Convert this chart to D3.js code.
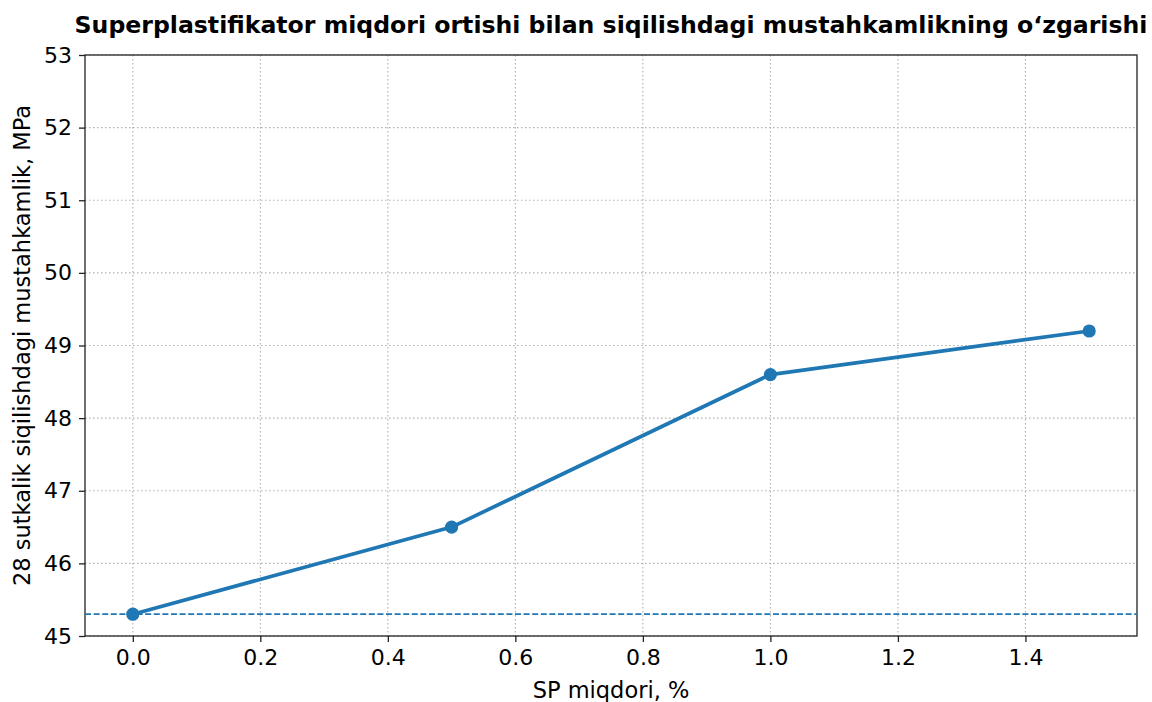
<!DOCTYPE html>
<html>
<head>
<meta charset="utf-8">
<script src="https://cdn.jsdelivr.net/npm/d3@7"></script>
<style>
  body { margin: 0; background: #fff; }
  text { font-family: "DejaVu Sans", sans-serif; fill: #000; }
</style>
</head>
<body>
<svg width="1152" height="702"></svg>
<script>
var spAmount = [0.0, 0.5, 1.0, 1.5];
var strength = [45.3, 46.5, 48.6, 49.2];
var baseline = 45.3;
var xTicks = [0.0, 0.2, 0.4, 0.6, 0.8, 1.0, 1.2, 1.4];
var yTicks = [45, 46, 47, 48, 49, 50, 51, 52, 53];

var svg = d3.select("svg"),
    margin = {top: 55, right: 15, bottom: 66, left: 85},
    width = +svg.attr("width") - margin.left - margin.right,
    height = +svg.attr("height") - margin.top - margin.bottom;

var x = d3.scaleLinear().domain([-0.075, 1.575]).range([0, width]);
var y = d3.scaleLinear().domain([45, 53]).range([height, 0]);

var g = svg.append("g")
    .attr("transform", "translate(" + margin.left + "," + margin.top + ")");

// grid
g.append("g").selectAll("line")
    .data(xTicks).enter().append("line")
    .attr("x1", function (d) { return x(d); })
    .attr("x2", function (d) { return x(d); })
    .attr("y1", 0).attr("y2", height)
    .attr("stroke", "#b0b0b0").attr("stroke-width", 1.1)
    .attr("stroke-dasharray", "1.5,2.5");
g.append("g").selectAll("line")
    .data(yTicks).enter().append("line")
    .attr("y1", function (d) { return y(d); })
    .attr("y2", function (d) { return y(d); })
    .attr("x1", 0).attr("x2", width)
    .attr("stroke", "#b0b0b0").attr("stroke-width", 1.1)
    .attr("stroke-dasharray", "1.5,2.5");

// axes
var xAxis = g.append("g")
    .attr("transform", "translate(0," + height + ")")
    .call(d3.axisBottom(x).tickValues(xTicks).tickFormat(d3.format(".1f")).tickSize(6).tickPadding(7));
var yAxis = g.append("g")
    .call(d3.axisLeft(y).tickValues(yTicks).tickFormat(d3.format("d")).tickSize(6).tickPadding(7));
[xAxis, yAxis].forEach(function (a) {
    a.attr("font-size", null).attr("font-family", null);
    a.selectAll("text").style("font-size", "22px").style("font-family", "DejaVu Sans");
    a.selectAll("line").attr("stroke", "#222").attr("stroke-width", 1.3);
    a.select(".domain").remove();
});

// frame
g.append("rect")
    .attr("x", 0).attr("y", 0).attr("width", width).attr("height", height)
    .attr("fill", "none").attr("stroke", "#222").attr("stroke-width", 1.3);

// baseline
g.append("line")
    .attr("x1", 0).attr("x2", width)
    .attr("y1", y(baseline)).attr("y2", y(baseline))
    .attr("stroke", "#1f77b4").attr("stroke-width", 1.7)
    .attr("stroke-dasharray", "6,2.6");

// series
var pts = spAmount.map(function (d, i) { return [d, strength[i]]; });
g.append("path")
    .datum(pts)
    .attr("fill", "none")
    .attr("stroke", "#1f77b4")
    .attr("stroke-width", 3.7)
    .attr("stroke-linejoin", "round")
    .attr("d", d3.line().x(function (d) { return x(d[0]); }).y(function (d) { return y(d[1]); }));
g.selectAll(".dot")
    .data(pts).enter().append("circle")
    .attr("class", "dot")
    .attr("cx", function (d) { return x(d[0]); })
    .attr("cy", function (d) { return y(d[1]); })
    .attr("r", 6.6)
    .attr("fill", "#1f77b4");

// labels
svg.append("text")
    .attr("x", margin.left + width / 2).attr("y", 33)
    .attr("text-anchor", "middle")
    .style("font-size", "23.6px").style("font-weight", "bold")
    .text("Superplastifikator miqdori ortishi bilan siqilishdagi mustahkamlikning o‘zgarishi");
svg.append("text")
    .attr("x", margin.left + width / 2).attr("y", 698)
    .attr("text-anchor", "middle")
    .style("font-size", "22.5px")
    .text("SP miqdori, %");
svg.append("text")
    .attr("transform", "translate(30," + (margin.top + height / 2) + ") rotate(-90)")
    .attr("text-anchor", "middle")
    .style("font-size", "22.5px")
    .text("28 sutkalik siqilishdagi mustahkamlik, MPa");
</script>
</body>
</html>
